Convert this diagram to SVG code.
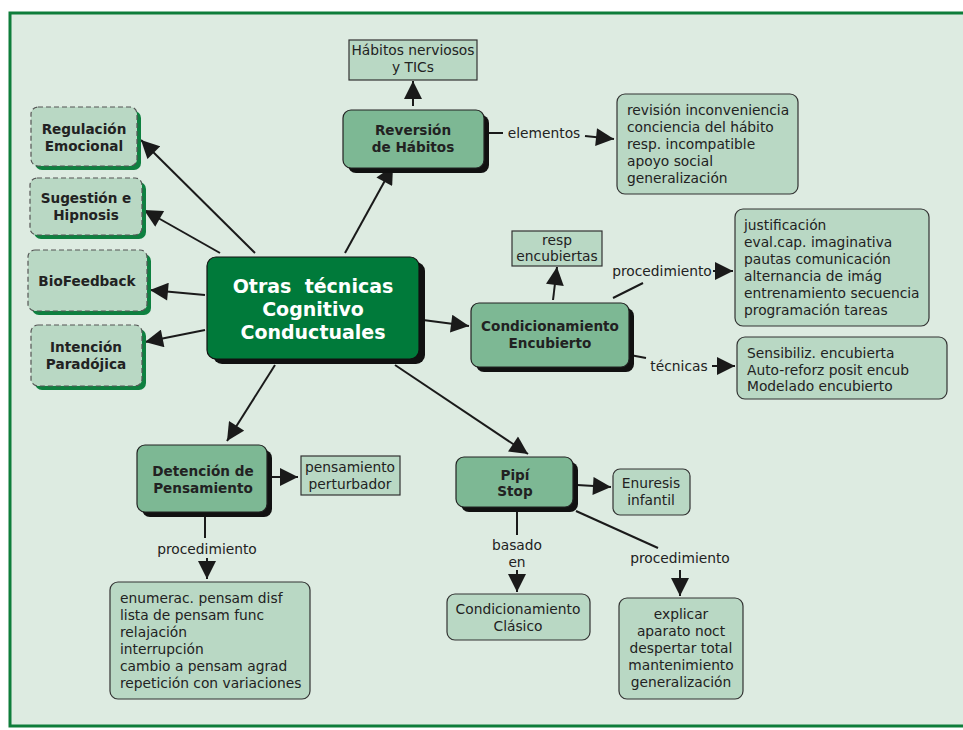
<svg xmlns="http://www.w3.org/2000/svg" width="963" height="730" viewBox="0 0 963 730">
<defs>
<marker id="a" viewBox="0 0 10 10" refX="10" refY="5" markerWidth="20" markerHeight="18" markerUnits="userSpaceOnUse" orient="auto">
<path d="M0,0 L10,5 L0,10 z" fill="#1a1a1a"/>
</marker>
</defs>
<style>
text{font-family:"DejaVu Sans",Verdana,sans-serif;fill:#222;}
.t{font-size:13.8px;}
.b{font-size:13.6px;font-weight:bold;}
.c{text-anchor:middle;}
.light{fill:#B9D8C4;stroke:#333;stroke-width:1.2;}
.dash{fill:#B9D8C4;stroke:#555;stroke-width:1.2;stroke-dasharray:5,3;}
.gsh{fill:#0E8040;}
.ksh{fill:#111;}
.mid{fill:#7DB894;stroke:#222;stroke-width:1.2;}
.ln{stroke:#1a1a1a;stroke-width:2;fill:none;}
.ar{stroke:#1a1a1a;stroke-width:2;fill:none;marker-end:url(#a);}
</style>
<rect x="0" y="0" width="963" height="730" fill="#ffffff"/>
<rect x="10" y="13" width="960" height="713" fill="#DDEBE1" stroke="#0E7D3A" stroke-width="3"/>

<g id="connectors">
<path class="ar" d="M255,253 L141,140"/>
<path class="ar" d="M220,253 L144,210"/>
<path class="ar" d="M205,295 L150,290"/>
<path class="ar" d="M205,330 L145,342"/>
<path class="ar" d="M345,253 L393,166"/>
<path class="ar" d="M413,106 L413,81"/>
<path class="ln" d="M486,133 L503,133"/>
<path class="ar" d="M585,136 L614,139"/>
<path class="ar" d="M423,320 L469,326"/>
<path class="ar" d="M553,300 L557,267"/>
<path class="ln" d="M613,298 L643,283"/>
<path class="ar" d="M713,271 L733,271"/>
<path class="ln" d="M630,355 L646,358"/>
<path class="ar" d="M712,366 L735,366"/>
<path class="ar" d="M275,365 L227,441"/>
<path class="ar" d="M268,477 L298,477"/>
<path class="ln" d="M205,514 L205,538"/>
<path class="ar" d="M207,558 L207,579"/>
<path class="ar" d="M395,365 L528,454"/>
<path class="ar" d="M577,485 L611,487"/>
<path class="ln" d="M517,510 L517,535"/>
<path class="ar" d="M517,570 L517,592"/>
<path class="ln" d="M576,511 L658,548"/>
<path class="ar" d="M680,570 L680,596"/>
<text class="t c" x="544" y="138">elementos</text>
<text class="t c" x="662" y="276">procedimiento</text>
<text class="t c" x="679" y="371">técnicas</text>
<text class="t c" x="207" y="554">procedimiento</text>
<text class="t c" x="517" y="550">basado</text>
<text class="t c" x="517" y="567">en</text>
<text class="t c" x="680" y="563">procedimiento</text>
</g>

<g id="central">
<rect x="213" y="262" width="212" height="102" rx="9" class="ksh"/>
<rect x="207" y="257" width="212" height="102" rx="9" fill="#007A3A" stroke="#111" stroke-width="1.2"/>
<text class="c" x="313" y="293" style="font-size:19px;font-weight:bold;fill:#fff">Otras&#160; técnicas</text>
<text class="c" x="313" y="316" style="font-size:19px;font-weight:bold;fill:#fff">Cognitivo</text>
<text class="c" x="313" y="339" style="font-size:19px;font-weight:bold;fill:#fff">Conductuales</text>
</g>

<g id="regulacion">
<rect x="35" y="111" width="106" height="59" rx="7" class="gsh"/>
<rect x="31" y="107" width="106" height="59" rx="7" class="dash"/>
<text class="b c" x="84" y="134">Regulación</text>
<text class="b c" x="84" y="151">Emocional</text>
</g>
<g id="sugestion">
<rect x="34" y="182" width="112" height="57" rx="7" class="gsh"/>
<rect x="30" y="178" width="112" height="57" rx="7" class="dash"/>
<text class="b c" x="86" y="203">Sugestión e</text>
<text class="b c" x="86" y="220">Hipnosis</text>
</g>
<g id="biofeedback">
<rect x="32" y="254" width="119" height="61" rx="7" class="gsh"/>
<rect x="28" y="250" width="119" height="61" rx="7" class="dash"/>
<text class="b c" x="87" y="286">BioFeedback</text>
</g>
<g id="intencion">
<rect x="35" y="329" width="111" height="61" rx="7" class="gsh"/>
<rect x="31" y="325" width="111" height="61" rx="7" class="dash"/>
<text class="b c" x="86" y="352">Intención</text>
<text class="b c" x="86" y="369">Paradójica</text>
</g>

<g id="habitos">
<rect x="349" y="40" width="128" height="40" class="light"/>
<text class="t c" x="413" y="55">Hábitos nerviosos</text>
<text class="t c" x="413" y="72">y TICs</text>
</g>
<g id="reversion">
<rect x="348" y="115" width="141" height="58" rx="8" class="ksh"/>
<rect x="343" y="110" width="141" height="58" rx="8" class="mid"/>
<text class="b c" x="413" y="135">Reversión</text>
<text class="b c" x="413" y="152">de Hábitos</text>
</g>
<g id="elementos-box">
<rect x="617" y="94" width="181" height="100" rx="8" class="light"/>
<text class="t" x="627" y="115">revisión inconveniencia</text>
<text class="t" x="627" y="132">conciencia del hábito</text>
<text class="t" x="627" y="149">resp. incompatible</text>
<text class="t" x="627" y="166">apoyo social</text>
<text class="t" x="627" y="183">generalización</text>
</g>

<g id="resp">
<rect x="512" y="231" width="90" height="35" class="light"/>
<text class="t c" x="557" y="245">resp</text>
<text class="t c" x="557" y="261">encubiertas</text>
</g>
<g id="condicionamiento">
<rect x="476" y="308" width="158" height="64" rx="8" class="ksh"/>
<rect x="471" y="303" width="158" height="64" rx="8" class="mid"/>
<text class="b c" x="550" y="331">Condicionamiento</text>
<text class="b c" x="550" y="348">Encubierto</text>
</g>
<g id="procedimiento-box">
<rect x="735" y="209" width="194" height="117" rx="8" class="light"/>
<text class="t" x="744" y="230">justificación</text>
<text class="t" x="744" y="247">eval.cap. imaginativa</text>
<text class="t" x="744" y="264">pautas comunicación</text>
<text class="t" x="744" y="281">alternancia de imág</text>
<text class="t" x="744" y="298">entrenamiento secuencia</text>
<text class="t" x="744" y="315">programación tareas</text>
</g>
<g id="tecnicas-box">
<rect x="737" y="337" width="210" height="62" rx="8" class="light"/>
<text class="t" x="747" y="358">Sensibiliz. encubierta</text>
<text class="t" x="747" y="375">Auto-reforz posit encub</text>
<text class="t" x="747" y="391">Modelado encubierto</text>
</g>

<g id="detencion">
<rect x="142" y="450" width="130" height="67" rx="8" class="ksh"/>
<rect x="137" y="445" width="130" height="67" rx="8" class="mid"/>
<text class="b c" x="203" y="476">Detención de</text>
<text class="b c" x="203" y="493">Pensamiento</text>
</g>
<g id="perturbador">
<rect x="301" y="456" width="99" height="39" class="light"/>
<text class="t c" x="350" y="472">pensamiento</text>
<text class="t c" x="350" y="489">perturbador</text>
</g>
<g id="enumerac-box">
<rect x="110" y="582" width="200" height="117" rx="8" class="light"/>
<text class="t" x="120" y="603">enumerac. pensam disf</text>
<text class="t" x="120" y="620">lista de pensam func</text>
<text class="t" x="120" y="637">relajación</text>
<text class="t" x="120" y="654">interrupción</text>
<text class="t" x="120" y="671">cambio a pensam agrad</text>
<text class="t" x="120" y="688">repetición con variaciones</text>
</g>

<g id="pipi">
<rect x="461" y="462" width="117" height="50" rx="8" class="ksh"/>
<rect x="456" y="457" width="117" height="50" rx="8" class="mid"/>
<text class="b c" x="515" y="480">Pipí</text>
<text class="b c" x="515" y="496">Stop</text>
</g>
<g id="enuresis">
<rect x="613" y="469" width="77" height="46" rx="7" class="light"/>
<text class="t c" x="651" y="488">Enuresis</text>
<text class="t c" x="651" y="505">infantil</text>
</g>
<g id="clasico">
<rect x="447" y="594" width="143" height="46" rx="8" class="light"/>
<text class="t c" x="518" y="614">Condicionamiento</text>
<text class="t c" x="518" y="631">Clásico</text>
</g>
<g id="explicar-box">
<rect x="619" y="598" width="124" height="101" rx="8" class="light"/>
<text class="t c" x="681" y="619">explicar</text>
<text class="t c" x="681" y="636">aparato noct</text>
<text class="t c" x="681" y="653">despertar total</text>
<text class="t c" x="681" y="670">mantenimiento</text>
<text class="t c" x="681" y="687">generalización</text>
</g>
</svg>
